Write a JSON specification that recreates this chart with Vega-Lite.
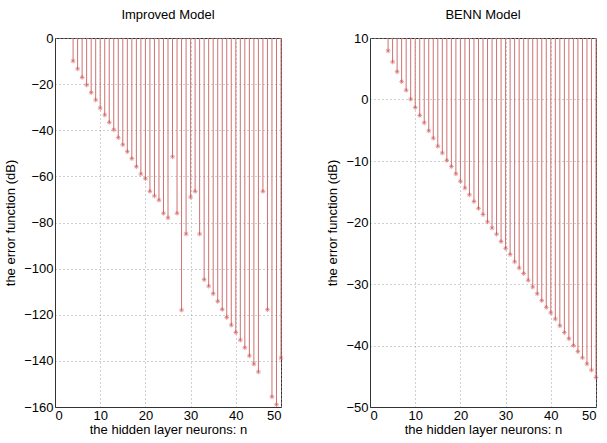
{
  "$schema": "https://vega.github.io/schema/vega-lite/v6.json",
  "background": "white",
  "padding": {"left": 4, "top": 8, "right": 5, "bottom": 5},
  "datasets": {
    "improved": [
      {"n": 4, "v": -10}, {"n": 5, "v": -13.4}, {"n": 6, "v": -17.1}, {"n": 7, "v": -20.4},
      {"n": 8, "v": -23.7}, {"n": 9, "v": -26.9}, {"n": 10, "v": -30.4}, {"n": 11, "v": -33.4},
      {"n": 12, "v": -36.6}, {"n": 13, "v": -39.8}, {"n": 14, "v": -43.2}, {"n": 15, "v": -46.3},
      {"n": 16, "v": -49.3}, {"n": 17, "v": -52.3}, {"n": 18, "v": -55.8}, {"n": 19, "v": -59},
      {"n": 20, "v": -61}, {"n": 21, "v": -66.5}, {"n": 22, "v": -68.5}, {"n": 23, "v": -70.3},
      {"n": 24, "v": -76}, {"n": 25, "v": -78}, {"n": 26, "v": -51.5}, {"n": 27, "v": -76},
      {"n": 28, "v": -118}, {"n": 29, "v": -85}, {"n": 30, "v": -69}, {"n": 31, "v": -66.5},
      {"n": 32, "v": -85}, {"n": 33, "v": -104.8}, {"n": 34, "v": -107.6}, {"n": 35, "v": -110.9},
      {"n": 36, "v": -114.2}, {"n": 37, "v": -117.7}, {"n": 38, "v": -121.2}, {"n": 39, "v": -124.5},
      {"n": 40, "v": -127.7}, {"n": 41, "v": -131}, {"n": 42, "v": -134.3}, {"n": 43, "v": -137.8},
      {"n": 44, "v": -141.4}, {"n": 45, "v": -144.8}, {"n": 46, "v": -66.5}, {"n": 47, "v": -117.8},
      {"n": 48, "v": -155.6}, {"n": 49, "v": -159}, {"n": 50, "v": -138.8}
    ],
    "benn": [
      {"n": 4, "v": 7.9}, {"n": 5, "v": 6.1}, {"n": 6, "v": 4.5}, {"n": 7, "v": 2.9},
      {"n": 8, "v": 1.5}, {"n": 9, "v": 0.05}, {"n": 10, "v": -1.3}, {"n": 11, "v": -2.6},
      {"n": 12, "v": -3.8}, {"n": 13, "v": -5.1}, {"n": 14, "v": -6.3}, {"n": 15, "v": -7.6},
      {"n": 16, "v": -8.7}, {"n": 17, "v": -9.9}, {"n": 18, "v": -10.9}, {"n": 19, "v": -12.1},
      {"n": 20, "v": -13.3}, {"n": 21, "v": -14.4}, {"n": 22, "v": -15.5}, {"n": 23, "v": -16.6},
      {"n": 24, "v": -17.7}, {"n": 25, "v": -18.7}, {"n": 26, "v": -19.9}, {"n": 27, "v": -20.9},
      {"n": 28, "v": -21.9}, {"n": 29, "v": -23.1}, {"n": 30, "v": -24.2}, {"n": 31, "v": -25.2},
      {"n": 32, "v": -26.4}, {"n": 33, "v": -27.4}, {"n": 34, "v": -28.3}, {"n": 35, "v": -29.4},
      {"n": 36, "v": -30.5}, {"n": 37, "v": -31.6}, {"n": 38, "v": -32.7}, {"n": 39, "v": -33.8},
      {"n": 40, "v": -34.7}, {"n": 41, "v": -35.7}, {"n": 42, "v": -36.8}, {"n": 43, "v": -37.9},
      {"n": 44, "v": -38.9}, {"n": 45, "v": -40}, {"n": 46, "v": -41}, {"n": 47, "v": -42},
      {"n": 48, "v": -43}, {"n": 49, "v": -44}, {"n": 50, "v": -45.2}
    ]
  },
  "config": {
    "font": "Liberation Sans",
    "view": {"stroke": "#333333", "strokeWidth": 1},
    "axis": {
      "labelFont": "Liberation Sans",
      "titleFont": "Liberation Sans",
      "labelFontSize": 13,
      "titleFontSize": 13,
      "titleFontWeight": "normal",
      "labelColor": "#000000",
      "titleColor": "#000000",
      "domainColor": "#333333",
      "ticks": false,
      "gridColor": "#a0a0a0",
      "gridDash": [1, 3],
      "gridWidth": 1,
      "labelPadding": 2
    },
    "title": {"font": "Liberation Sans", "fontSize": 13, "fontWeight": "normal", "color": "#000000", "offset": 10},
    "concat": {"spacing": 40}
  },
  "hconcat": [
    {
      "title": "Improved Model",
      "width": 226,
      "height": 369,
      "data": {"name": "improved"},
      "layer": [
        {
          "mark": {"type": "rule", "color": "#cc7272", "strokeWidth": 1},
          "encoding": {
            "x": {"field": "n", "type": "quantitative", "scale": {"domain": [0, 50], "nice": false},
              "axis": {"values": [0, 10, 20, 30, 40, 50], "title": "the hidden layer neurons: n", "titlePadding": 1}},
            "y": {"field": "v", "type": "quantitative", "scale": {"domain": [-160, 0], "nice": false},
              "axis": {"values": [-160, -140, -120, -100, -80, -60, -40, -20, 0], "title": "the error function (dB)", "titlePadding": 6}},
            "y2": {"datum": 0}
          }
        },
        {
          "mark": {"type": "point", "shape": "M-1,0L1,0M0,-1L0,1M-0.7,-0.7L0.7,0.7M-0.7,0.7L0.7,-0.7", "size": 22, "color": "#d04848", "strokeWidth": 0.8, "filled": false},
          "encoding": {
            "x": {"field": "n", "type": "quantitative"},
            "y": {"field": "v", "type": "quantitative"}
          }
        }
      ]
    },
    {
      "title": "BENN Model",
      "width": 226,
      "height": 369,
      "data": {"name": "benn"},
      "layer": [
        {
          "mark": {"type": "rule", "color": "#cc7272", "strokeWidth": 1},
          "encoding": {
            "x": {"field": "n", "type": "quantitative", "scale": {"domain": [0, 50], "nice": false},
              "axis": {"values": [0, 10, 20, 30, 40, 50], "title": "the hidden layer neurons: n", "titlePadding": 1}},
            "y": {"field": "v", "type": "quantitative", "scale": {"domain": [-50, 10], "nice": false},
              "axis": {"values": [-50, -40, -30, -20, -10, 0, 10], "title": "the error function (dB)", "titlePadding": 6}},
            "y2": {"datum": 10}
          }
        },
        {
          "mark": {"type": "point", "shape": "M-1,0L1,0M0,-1L0,1M-0.7,-0.7L0.7,0.7M-0.7,0.7L0.7,-0.7", "size": 22, "color": "#d04848", "strokeWidth": 0.8, "filled": false},
          "encoding": {
            "x": {"field": "n", "type": "quantitative"},
            "y": {"field": "v", "type": "quantitative"}
          }
        }
      ]
    }
  ]
}
